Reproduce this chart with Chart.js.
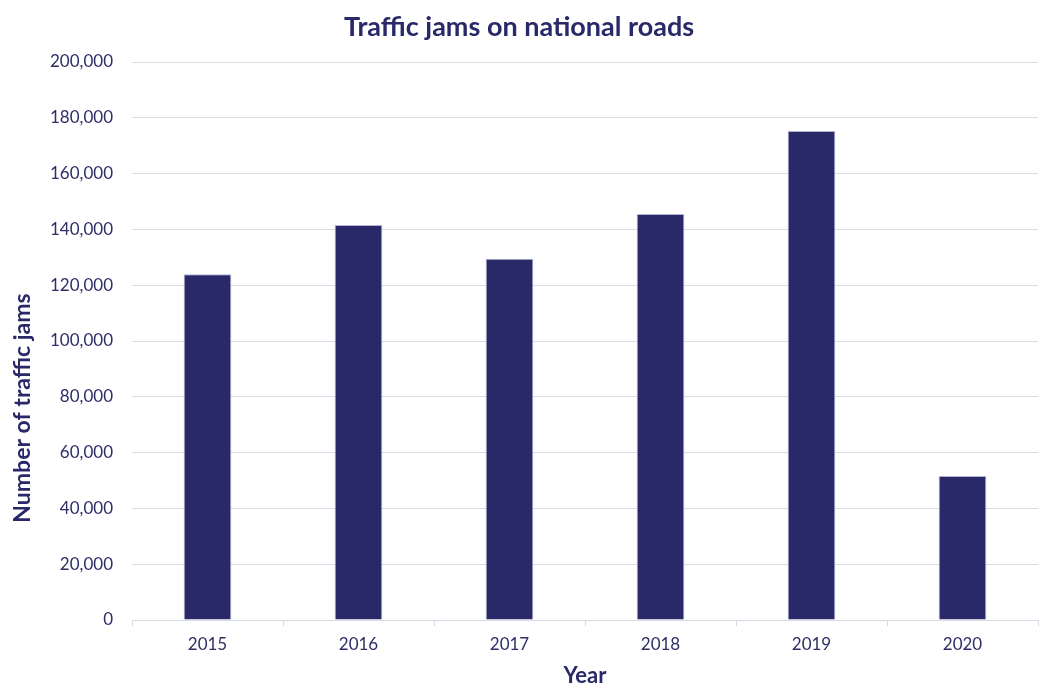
<!DOCTYPE html>
<html>
<head>
<meta charset="utf-8">
<script src="https://cdn.jsdelivr.net/npm/chart.js@4"></script>
<style>
html,body{margin:0;padding:0;background:#fff;}
#wrap{width:1041px;height:684px;}
</style>
</head>
<body>
<div id="wrap"><canvas id="c" width="1041" height="684"></canvas></div>
<script>
const years = ["2015", "2016", "2017", "2018", "2019", "2020"];
const trafficJams = [123900, 141600, 129500, 145500, 175300, 51600];
const yTicks = [0, 20000, 40000, 60000, 80000, 100000, 120000, 140000, 160000, 180000, 200000];
const yAxisTitle = "Number of traffic jams";

const NAVY = "#29296a";
const TEXT = "#2e2e68";
const FONT = "Lato, 'Liberation Sans', sans-serif";

const yTitlePlugin = {
  id: "yTitlePlugin",
  afterDraw(chart) {
    const ctx = chart.ctx;
    ctx.save();
    ctx.translate(23, 408);
    ctx.rotate(-Math.PI / 2);
    ctx.font = "bold 23px " + FONT;
    ctx.fillStyle = NAVY;
    ctx.textAlign = "center";
    ctx.textBaseline = "middle";
    ctx.fillText(yAxisTitle, 0, 0);
    ctx.restore();
  }
};

new Chart(document.getElementById("c"), {
  type: "bar",
  data: {
    labels: years,
    datasets: [{
      label: yAxisTitle,
      data: trafficJams,
      backgroundColor: NAVY,
      borderColor: "#b4b4d4",
      borderWidth: 1,
      categoryPercentage: 1.0,
      barPercentage: 0.316
    }]
  },
  plugins: [yTitlePlugin],
  options: {
    responsive: false,
    animation: false,
    layout: { padding: { left: 0, right: 3, top: 0, bottom: 1.4 } },
    plugins: {
      legend: { display: false },
      tooltip: { enabled: false },
      title: {
        display: true,
        text: "Traffic jams on national roads",
        color: NAVY,
        font: { family: FONT, size: 27, weight: "bold" },
        padding: { top: 11, bottom: 18.6 }
      }
    },
    scales: {
      x: {
        grid: { display: true, drawOnChartArea: false, drawTicks: true, tickLength: 6, color: "#d9d9e6", offset: true },
        border: { display: true, color: "#d9d9e6", width: 1 },
        ticks: { color: TEXT, font: { family: FONT, size: 17 }, padding: 8 },
        title: { display: true, text: "Year", color: NAVY, font: { family: FONT, size: 22, weight: "bold", lineHeight: 0.6 }, padding: { top: 7, bottom: 0 } }
      },
      y: {
        min: 0,
        max: 200000,
        afterBuildTicks: (axis) => { axis.ticks = yTicks.map(v => ({ value: v })); },
        afterFit: (axis) => { axis.width = 132; },
        grid: { color: "#dcdce6", lineWidth: 1, drawTicks: false },
        border: { display: false },
        ticks: {
          color: TEXT,
          font: { family: FONT, size: 17 },
          padding: 19,
          callback: (v) => v.toLocaleString("en-US")
        }
      }
    }
  }
});
</script>
</body>
</html>
